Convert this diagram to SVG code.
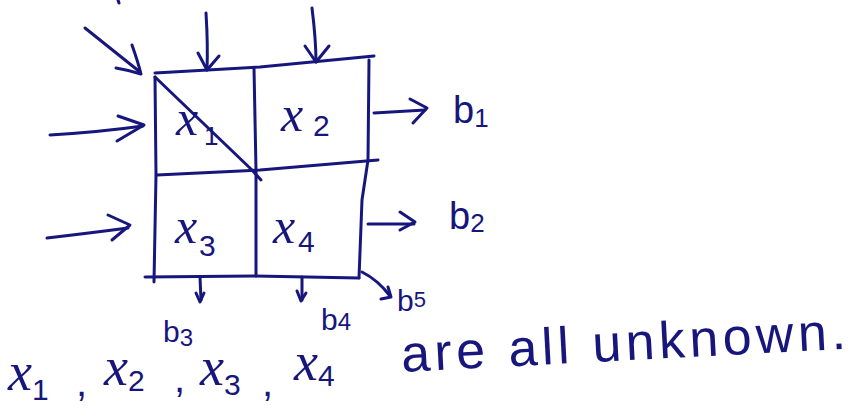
<svg xmlns="http://www.w3.org/2000/svg" width="854" height="414" viewBox="0 0 854 414">
<style>
.ink{fill:none;stroke:#16167c;stroke-width:3;stroke-linecap:round;stroke-linejoin:round}
.v{font-family:"Liberation Serif",serif;font-style:italic;fill:#16167c}
.n{font-family:"Liberation Sans",sans-serif;fill:#16167c}
.s{font-family:"Liberation Sans",sans-serif;fill:#16167c}
</style>
<rect width="854" height="414" fill="#fff"/>
<g id="grid" class="ink">
<path d="M155,73 L260,67 L374,56"/>
<path d="M155,77 L156,175 L154,282"/>
<path d="M254,68 L256,170 L256,276"/>
<path d="M369,60 L368,160 L362,200 L359,278"/>
<path d="M157,175 L260,170 L378,160"/>
<path d="M145,277 L255,276 L359,278"/>
</g>
<g id="cell-x1"><text class="v" x="176" y="135" font-size="50">x</text><text class="n" x="204" y="145" font-size="26">1</text></g>
<g id="cell-x2"><text class="v" x="281" y="131" font-size="50">x</text><text class="n" x="313" y="136" font-size="30">2</text></g>
<g id="cell-x3"><text class="v" x="175" y="243" font-size="50">x</text><text class="n" x="199" y="256" font-size="30">3</text></g>
<g id="cell-x4"><text class="v" x="273" y="243" font-size="50">x</text><text class="n" x="298" y="252" font-size="30">4</text></g>
<g id="connectors" class="ink">
<path d="M118,0 L119,3"/>
<path d="M85,28 L140,72"/>
<path d="M132,45 Q138,62 141,74 Q128,70 116,68"/>
<path d="M206,13 Q208,45 207,70"/>
<path d="M198,53 L207,70 L219,56"/>
<path d="M312,8 Q316,40 316,62"/>
<path d="M305,46 L316,62 L329,46"/>
<path d="M50,135 Q100,132 143,126"/>
<path d="M118,116 L144,125 L117,141"/>
<path d="M47,238 Q90,233 128,228"/>
<path d="M108,215 L130,225 L112,240"/>
<path d="M155,77 L252,170 L261,180"/>
<path d="M374,113 L425,110"/>
<path d="M410,99 L427,108 L413,123"/>
<path d="M368,224 L414,224"/>
<path d="M400,212 L415,222 L400,230"/>
<path d="M200,277 L201,300"/>
<path d="M196,293 L200,302 L204,293"/>
<path d="M302,277 L302,300"/>
<path d="M297,291 L301,301 L306,293"/>
<path d="M362,272 Q378,280 390,296"/>
<path d="M388,287 L391,297 L381,299"/>
</g>
<g id="outputs">
<text class="s" x="453" y="123" font-size="38">b<tspan font-size="26" dy="4">1</tspan></text>
<text class="s" x="449" y="229" font-size="38">b<tspan font-size="26" dy="3">2</tspan></text>
<text class="s" x="163" y="342" font-size="30">b<tspan font-size="24" dy="4">3</tspan></text>
<text class="s" x="321" y="330" font-size="30">b<tspan font-size="24">4</tspan></text>
<text class="s" x="397" y="311" font-size="30">b<tspan font-size="22" dy="-4">5</tspan></text>
</g>
<g id="caption">
<text class="v" x="8" y="390" font-size="54">x<tspan class="n" font-style="normal" font-size="30" dy="10">1</tspan></text>
<text class="n" x="76" y="396" font-size="40">,</text>
<text class="v" x="104" y="385" font-size="54">x<tspan class="n" font-style="normal" font-size="30" dy="6">2</tspan></text>
<text class="n" x="174" y="392" font-size="40">,</text>
<text class="v" x="200" y="385" font-size="54">x<tspan class="n" font-style="normal" font-size="30" dy="10">3</tspan></text>
<text class="n" x="262" y="396" font-size="40">,</text>
<text class="v" x="294" y="380" font-size="54">x<tspan class="n" font-style="normal" font-size="30" dy="6">4</tspan></text>
<text class="s" x="402" y="372" font-size="52" transform="rotate(-3 402 372)" textLength="445" lengthAdjust="spacing">are all unknown.</text>
</g>
</svg>
